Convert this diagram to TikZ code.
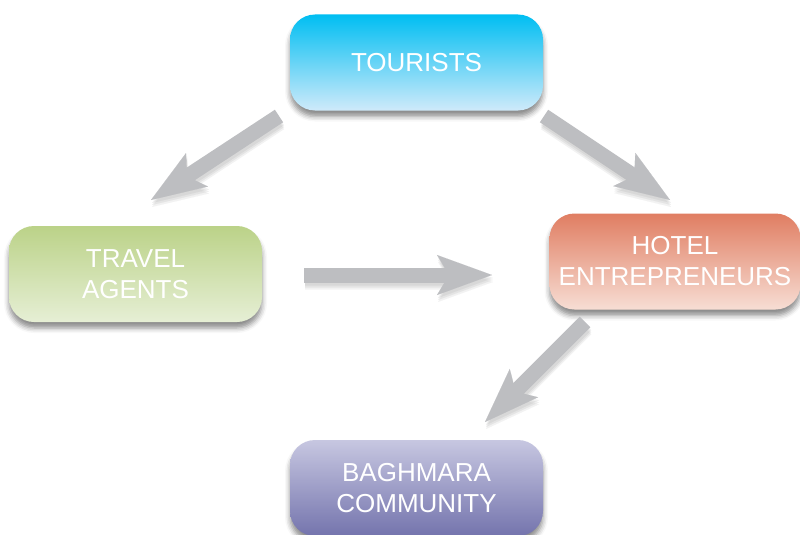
\documentclass[tikz,border=0pt]{standalone}
\usepackage{fontspec}
\setmainfont{Liberation Sans}
\usetikzlibrary{arrows.meta,shadows.blur}
\definecolor{tourtop}{HTML}{00BEF2}
\definecolor{tourbot}{HTML}{CFEAFA}
\definecolor{travtop}{HTML}{BBD288}
\definecolor{travbot}{HTML}{E6EFD5}
\definecolor{hoteltop}{HTML}{E07D62}
\definecolor{hotelbot}{HTML}{F7DED4}
\definecolor{bagtop}{HTML}{C7C7E1}
\definecolor{bagbot}{HTML}{7474AD}
\definecolor{arrowgray}{HTML}{BDBEC1}
\begin{document}
\begin{tikzpicture}[x=1pt,y=-1pt,
  box/.style={rounded corners=25pt, minimum width=253pt, minimum height=96pt,
    inner sep=0pt, align=center, text=white,
    font=\fontsize{26}{31}\selectfont,
    blur shadow={shadow xshift=0pt, shadow yshift=-6pt, shadow opacity=45, shadow blur radius=5pt}},
  fat/.style={draw=arrowgray, line width=15pt,
    -{Stealth[length=55pt, width=40pt, inset=12pt, line width=0.1pt]}},
  fatshadow/.style={draw=black!50, line width=15pt,
    -{Stealth[length=55pt, width=40pt, inset=12pt, line width=0.1pt]}}]
\useasboundingbox (0,0) rectangle (800,535);
% boxes
\node[box, top color=tourtop, bottom color=tourbot] (tour) at (416.5,62.5) {TOURISTS};
\node[box, top color=travtop, bottom color=travbot] (trav) at (135.5,274) {TRAVEL\\AGENTS};
\node[box, minimum width=251pt, top color=hoteltop, bottom color=hotelbot] (hotel) at (675,261.5) {HOTEL\\ENTREPRENEURS};
\node[box, top color=bagtop, bottom color=bagbot] (bag) at (416.5,488) {BAGHMARA\\COMMUNITY};
% arrow ends
\coordinate (a1s) at (279,116);
\coordinate (a1e) at (151,200);
\coordinate (a2s) at (544,116);
\coordinate (a2e) at (670,200);
\coordinate (a3s) at (304,275);
\coordinate (a3e) at (492,275);
\coordinate (a4s) at (585,322);
\coordinate (a4e) at (485,422);
% soft shadows of arrows
\foreach \dy/\op in {-3/0.12, -5/0.12, -7/0.1} {
\begin{scope}[transparency group, opacity=\op, transform canvas={xshift=1pt, yshift=\dy pt}]
  \draw[fatshadow] (a1s) -- (a1e);
  \draw[fatshadow] (a2s) -- (a2e);
  \draw[fatshadow] (a3s) -- (a3e);
  \draw[fatshadow] (a4s) -- (a4e);
\end{scope}
}
% arrows
\draw[fat] (a1s) -- (a1e);
\draw[fat] (a2s) -- (a2e);
\draw[fat] (a3s) -- (a3e);
\draw[fat] (a4s) -- (a4e);
\end{tikzpicture}
\end{document}
